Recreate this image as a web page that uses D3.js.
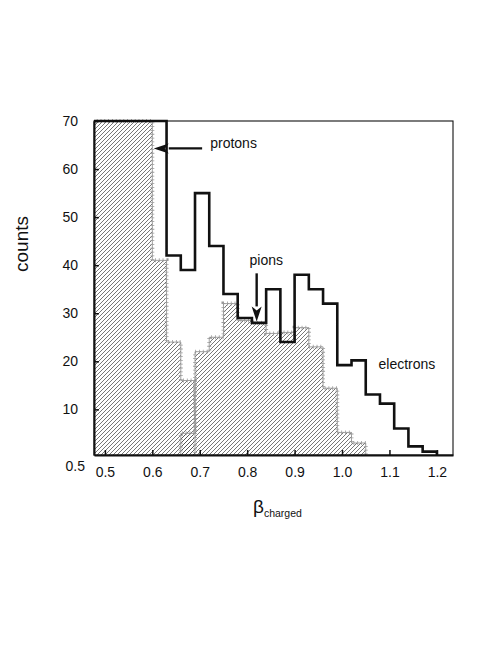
<!DOCTYPE html>
<html>
<head>
<meta charset="utf-8">
<script src="https://cdn.jsdelivr.net/npm/d3@7"></script>
<style>
  html, body { margin: 0; padding: 0; background: #fff; }
  svg { display: block; }
  text { font-family: Arial, "Liberation Sans", sans-serif; fill: #111; }
</style>
</head>
<body>
<svg id="chart" width="498" height="645"></svg>
<script>
// ---- data ----
const binWidth = 0.03;
// electrons histogram (thick outline), bins starting at 0.45
const electronStart = 0.45;
const electronCounts = [70, 70, 70, 70, 70, 70, 42, 39, 55, 44, 34, 29, 28, 35, 24, 38, 35, 32, 19.2, 20.2, 13.1, 11.2, 6, 2.3, 1.2];
// protons histogram (hatched), bins starting at 0.45
const protonStart = 0.45;
const protonCounts = [70, 70, 70, 70, 70, 41, 24, 16];
// pions histogram (hatched), bins starting at 0.66
const pionStart = 0.66;
const pionCounts = [5, 22, 25, 32, 28.5, 28, 25.8, 26, 27, 23, 14.4, 5.2, 3];

const xTicks = [0.5, 0.6, 0.7, 0.8, 0.9, 1.0, 1.1, 1.2];
const yTicks = [0.5, 10, 20, 30, 40, 50, 60, 70];
const xDomain = [0.477, 1.234];
const yDomain = [0.5, 70];

// annotations in data coordinates
const annotations = [
  { label: "protons", tx: 0.722, ty: 65.4, from: [0.705, 64.3], to: [0.603, 64.3] },
  { label: "pions", tx: 0.805, ty: 41.0, from: [0.82, 38.3], to: [0.82, 28.3] },
  { label: "electrons", tx: 1.077, ty: 19.4 }
];

// ---- layout ----
const svg = d3.select("#chart");
const mLeft = 94, mRight = 453, mTop = 121, mBottom = 455;
const x = d3.scaleLinear().domain(xDomain).range([mLeft, mRight]);
const y = d3.scaleLinear().domain(yDomain).range([mBottom, mTop]);

const defs = svg.append("defs");
const pat = defs.append("pattern")
  .attr("id", "hatch").attr("patternUnits", "userSpaceOnUse")
  .attr("width", 4).attr("height", 4);
pat.append("path")
  .attr("d", "M-1,1 l2,-2 M0,4 l4,-4 M3,5 l2,-2")
  .attr("stroke", "#4a4a4a").attr("stroke-width", 0.75);

defs.append("clipPath").attr("id", "plotclip")
  .append("rect").attr("x", mLeft).attr("y", mTop - 2)
  .attr("width", mRight - mLeft).attr("height", mBottom - mTop + 2);

function stepPoints(start, counts) {
  const pts = [[start, yDomain[0]]];
  counts.forEach((c, i) => {
    const x0 = start + i * binWidth, x1 = x0 + binWidth;
    pts.push([x0, c]);
    pts.push([x1, c]);
  });
  pts.push([start + counts.length * binWidth, yDomain[0]]);
  return pts;
}
const line = d3.line().x(d => x(d[0])).y(d => y(d[1]));

const plot = svg.append("g").attr("clip-path", "url(#plotclip)");

// hatched areas
[[protonStart, protonCounts], [pionStart, pionCounts]].forEach(([s, c]) => {
  plot.append("path")
    .attr("d", line(stepPoints(s, c)) + "Z")
    .attr("fill", "url(#hatch)").attr("stroke", "none");
});
// grey outlines with small tick marks
[[protonStart, protonCounts], [pionStart, pionCounts]].forEach(([s, c]) => {
  const d = line(stepPoints(s, c));
  plot.append("path").attr("d", d).attr("fill", "none")
    .attr("stroke", "#8a8a8a").attr("stroke-width", 0.8);
  plot.append("path").attr("d", d).attr("fill", "none")
    .attr("stroke", "#9a9a9a").attr("stroke-width", 4)
    .attr("stroke-dasharray", "0.8 3");
});

// electrons thick outline
plot.append("path")
  .attr("d", line(stepPoints(electronStart, electronCounts)))
  .attr("fill", "none").attr("stroke", "#111")
  .attr("stroke-width", 2.6).attr("stroke-linejoin", "miter");

// frame
svg.append("rect").attr("x", mLeft).attr("y", mTop)
  .attr("width", mRight - mLeft).attr("height", mBottom - mTop)
  .attr("fill", "none").attr("stroke", "#111").attr("stroke-width", 1.1);

// axes
const xAxis = d3.axisBottom(x).tickValues(xTicks).tickFormat(d3.format(".1f"))
  .tickSize(-5).tickSizeOuter(0).tickPadding(12);
const yAxis = d3.axisLeft(y).tickValues(yTicks).tickFormat(d => d === 0.5 ? "0.5" : d3.format("d")(d))
  .tickSize(-5).tickSizeOuter(0).tickPadding(16);

const gx = svg.append("g").attr("transform", `translate(0,${mBottom})`).call(xAxis);
const gy = svg.append("g").attr("transform", `translate(${mLeft},0)`).call(yAxis);
[gx, gy].forEach(g => {
  g.select(".domain").attr("stroke", "#111").attr("stroke-width", 2);
  g.selectAll(".tick line").attr("stroke", "#111").attr("stroke-width", 1.5);
  g.selectAll(".tick text").style("font-size", "14px").attr("fill", "#111")
    .style("font-family", "Arial, 'Liberation Sans', sans-serif");
});
gy.selectAll(".tick").filter(d => d === 0.5).each(function () {
  d3.select(this).select("line").remove();
  d3.select(this).select("text").attr("x", -9).attr("dy", "1.1em");
});

// axis titles
svg.append("text")
  .attr("transform", `translate(28,${(mTop + mBottom) / 2 - 44}) rotate(-90)`)
  .attr("text-anchor", "middle").style("font-size", "19px").text("counts");

const bt = svg.append("text").attr("x", 253).attr("y", 513);
bt.append("tspan").style("font-size", "19px").text("β");
bt.append("tspan").style("font-size", "10.5px").attr("dy", 4).text("charged");

// annotations
annotations.forEach(a => {
  svg.append("text").attr("x", x(a.tx)).attr("y", y(a.ty)).attr("dy", "0.35em")
    .style("font-size", "14px").text(a.label);
  if (a.from) {
    const x1 = x(a.from[0]), y1 = y(a.from[1]), x2 = x(a.to[0]), y2 = y(a.to[1]);
    const ang = Math.atan2(y2 - y1, x2 - x1);
    const L = 15, W = 5;
    const bx = x2 - L * Math.cos(ang), by = y2 - L * Math.sin(ang);
    svg.append("line").attr("x1", x1).attr("y1", y1).attr("x2", bx).attr("y2", by)
      .attr("stroke", "#111").attr("stroke-width", 2.4);
    const px = -Math.sin(ang) * W, py = Math.cos(ang) * W;
    svg.append("path")
      .attr("d", `M${x2},${y2} L${bx + px},${by + py} L${bx + 4 * Math.cos(ang)},${by + 4 * Math.sin(ang)} L${bx - px},${by - py} Z`)
      .attr("fill", "#111");
  }
});
</script>
</body>
</html>
